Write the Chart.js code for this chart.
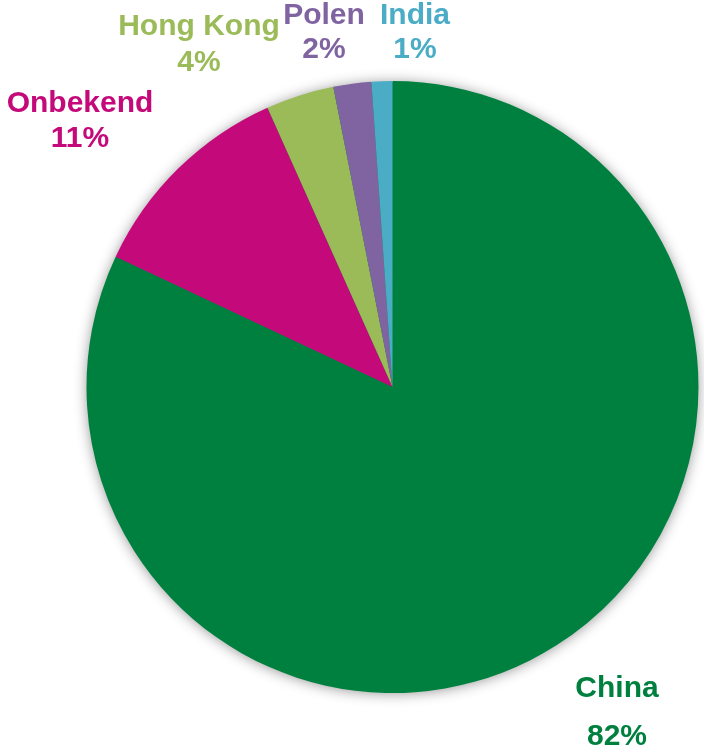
<!DOCTYPE html>
<html>
<head>
<meta charset="utf-8">
<script src="https://cdn.jsdelivr.net/npm/chart.js@4.4.1/dist/chart.umd.min.js"></script>
<style>
  html, body { margin: 0; padding: 0; background: #ffffff; }
  #wrap { width: 704px; height: 753px; }
</style>
</head>
<body>
<div id="wrap"><canvas id="c" width="704" height="753"></canvas></div>
<script>
const categories = ["China", "Onbekend", "Hong Kong", "Polen", "India"];
const shares = [82.0, 11.3, 3.6, 2.0, 1.1];
const percentLabels = ["82%", "11%", "4%", "2%", "1%"];
const sliceColors = ["#00803F", "#C4097A", "#9BBB59", "#8064A2", "#4BACC6"];

// label placement (canvas px) – styling only
const labelPlacement = [
  { x: 617, y1: 689, y2: 737 },
  { x: 80,  y1: 104, y2: 139 },
  { x: 199, y1: 27,  y2: 63 },
  { x: 324, y1: 16,  y2: 50 },
  { x: 415, y1: 16,  y2: 50 }
];

const shadowPlugin = {
  id: 'pieShadow',
  beforeDatasetsDraw(chart) {
    const meta = chart.getDatasetMeta(0);
    if (!meta.data.length) return;
    const a = meta.data[0];
    const ctx = chart.ctx;
    ctx.save();
    ctx.shadowColor = 'rgba(0,0,0,0.45)';
    ctx.shadowBlur = 14;
    ctx.shadowOffsetX = 0;
    ctx.shadowOffsetY = 1;
    ctx.beginPath();
    ctx.arc(a.x, a.y, a.outerRadius - 1, 0, Math.PI * 2);
    ctx.fillStyle = sliceColors[0];
    ctx.fill();
    ctx.restore();
  }
};

const labelPlugin = {
  id: 'sliceLabels',
  afterDatasetsDraw(chart) {
    const ctx = chart.ctx;
    ctx.save();
    ctx.font = 'bold 30px "Liberation Sans", Arial, sans-serif';
    ctx.textAlign = 'center';
    ctx.textBaseline = 'middle';
    categories.forEach((name, i) => {
      const p = labelPlacement[i];
      ctx.fillStyle = sliceColors[i];
      ctx.fillText(name, p.x, p.y1);
      ctx.fillText(percentLabels[i], p.x, p.y2);
    });
    ctx.restore();
  }
};

new Chart(document.getElementById('c'), {
  type: 'pie',
  data: {
    labels: categories,
    datasets: [{
      data: shares,
      backgroundColor: sliceColors,
      borderWidth: 0,
      hoverOffset: 0
    }]
  },
  options: {
    responsive: false,
    animation: false,
    layout: { padding: { left: 86, right: 5, top: 81, bottom: 60 } },
    plugins: {
      legend: { display: false },
      tooltip: { enabled: false }
    }
  },
  plugins: [shadowPlugin, labelPlugin]
});
</script>
</body>
</html>
